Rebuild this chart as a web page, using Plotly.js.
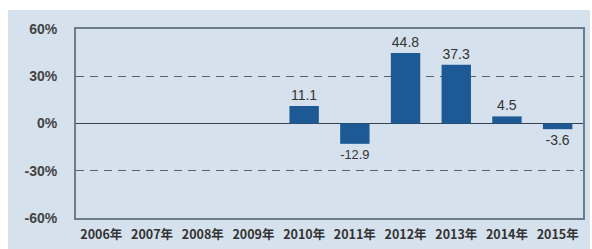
<!DOCTYPE html>
<html><head><meta charset="utf-8">
<script src="https://cdn.plot.ly/plotly-3.0.1.min.js"></script>
<style>
html,body{margin:0;padding:0;background:#fff;width:592px;height:249px;overflow:hidden;}
#chart{position:absolute;left:8px;top:10px;width:582px;height:239px;}
</style></head><body>
<div id="chart"></div>
<script>
const categories = ["2006年","2007年","2008年","2009年","2010年","2011年","2012年","2013年","2014年","2015年"];
const values = [null,null,null,null,11.1,-12.9,44.8,37.3,4.5,-3.6];
const labels = ["","","","","11.1","-12.9","44.8","37.3","4.5","-3.6"];
const yTickVals = [-60,-30,0,30,60];
const yTickText = ["-60%","-30%","0%","30%","60%"];

const trace = {
  type: 'bar', x: categories, y: values, text: labels,
  textposition: 'outside', cliponaxis: false,
  textfont: {family: 'Liberation Sans, Arial, sans-serif', size: 14, color: '#333'},
  marker: {color: '#1d5a95'}, width: 0.58, hoverinfo: 'none'
};
const layout = {
  width: 582, height: 239,
  margin: {l: 68, r: 7, t: 19, b: 31},
  paper_bgcolor: '#d5e1ec', plot_bgcolor: '#d5e1ec',
  showlegend: false,
  xaxis: {
    type: 'category', showline: true, linecolor: '#6d7c8a', linewidth: 2, mirror: true,
    ticks: '', showgrid: false, zeroline: false, ticklabelstandoff: 4,
    tickfont: {family: 'Noto Sans CJK JP, sans-serif', size: 12.5, color: '#333', weight: 'bold'}
  },
  yaxis: {
    range: [-60, 60], tickvals: yTickVals, ticktext: yTickText,
    showline: true, linecolor: '#6d7c8a', linewidth: 2, mirror: true,
    showgrid: true, gridcolor: '#55636f', griddash: '8px,6px', gridwidth: 1,
    zeroline: true, zerolinecolor: '#34424f', zerolinewidth: 1.5,
    ticks: '', ticklabelstandoff: 14,
    tickfont: {family: 'Liberation Sans, Arial, sans-serif', size: 14, color: '#444', weight: 'bold'}
  },
  font: {family: 'Liberation Sans, Arial, sans-serif'}
};
Plotly.newPlot('chart', [trace], layout, {staticPlot: true});
</script></body></html>
